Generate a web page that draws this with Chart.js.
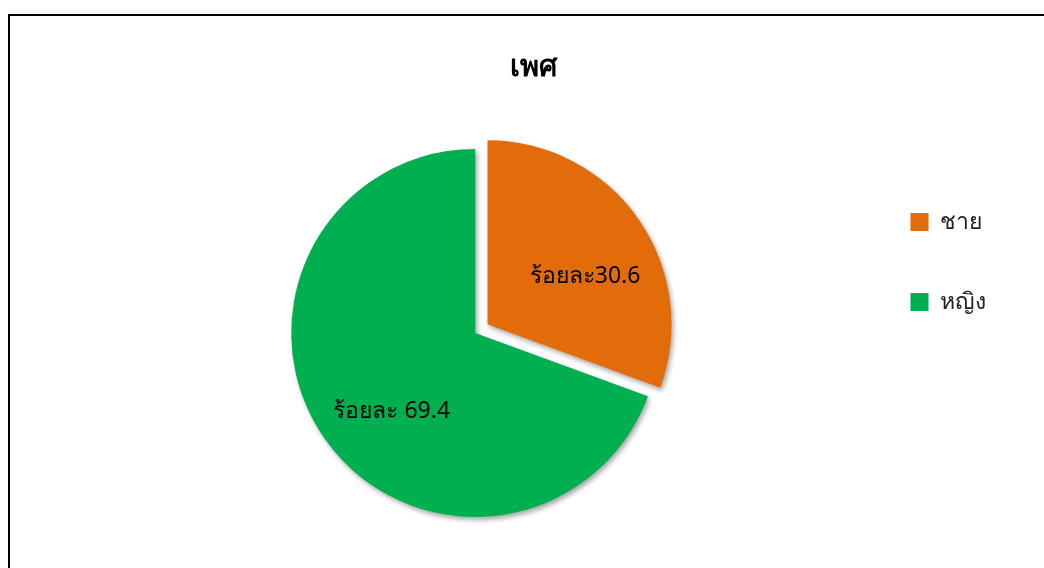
<!DOCTYPE html>
<html lang="th">
<head>
  <meta charset="UTF-8" />
  <title>เพศ</title>
  <script src="https://cdn.jsdelivr.net/npm/chart.js"></script>
  <style>
    html, body { margin: 0; padding: 0; background: #fff; overflow: hidden; }
    #frame { position: absolute; left: 8px; top: 14px; width: 1048px; height: 600px; border: 2px solid #000; }
  </style>
</head>
<body>
  <div id="frame">
    <canvas id="sexChart" width="1048" height="560"></canvas>
  </div>

  <script>
    const chartTitle = 'เพศ';
    const categories = ['ชาย', 'หญิง'];
    const percentValues = [30.6, 69.4];
    const labelTexts = ['ร้อยละ30.6', 'ร้อยละ 69.4'];
    const sliceColors = ['#E36C0A', '#00B050'];
    const explode = [15, 0];

    const thaiFont = "'Noto Sans', 'DejaVu Sans', sans-serif";

    // วาดชิ้นพายเอง เพื่อให้ชิ้น "ชาย" แยกออกมา พร้อมเงา
    const explodedSlices = {
      id: 'explodedSlices',
      beforeDatasetDraw(chart, args) {
        const ctx = chart.ctx;
        args.meta.data.forEach((arc, i) => {
          const mid = (arc.startAngle + arc.endAngle) / 2;
          ctx.save();
          ctx.shadowColor = 'rgba(0,0,0,0.35)';
          ctx.shadowBlur = 5;
          ctx.shadowOffsetX = 2;
          ctx.shadowOffsetY = 3;
          ctx.translate(Math.cos(mid) * explode[i], Math.sin(mid) * explode[i]);
          arc.draw(ctx);
          ctx.restore();
        });
        return false;
      }
    };

    // ป้ายข้อมูลบนชิ้นพาย
    const sliceLabels = {
      id: 'sliceLabels',
      afterDatasetsDraw(chart) {
        const ctx = chart.ctx;
        const meta = chart.getDatasetMeta(0);
        ctx.save();
        ctx.font = '23px ' + thaiFont;
        ctx.fillStyle = '#000';
        ctx.textAlign = 'center';
        ctx.textBaseline = 'middle';
        meta.data.forEach((arc, i) => {
          const mid = (arc.startAngle + arc.endAngle) / 2;
          const r = arc.outerRadius * 0.6 + explode[i];
          ctx.fillText(labelTexts[i], arc.x + Math.cos(mid) * r + 7, arc.y + Math.sin(mid) * r + 15);
        });
        ctx.restore();
      }
    };

    // ชื่อแผนภูมิจัดกึ่งกลางกรอบทั้งหมด ไม่ใช่กึ่งกลางพื้นที่ที่เหลือจากคำอธิบาย
    const centerTitle = {
      id: 'centerTitle',
      afterLayout(chart) {
        const t = chart.titleBlock;
        const shift = chart.width / 2 - (t.left + t.right) / 2 - 1;
        t.left += shift;
        t.right += shift;
      }
    };

    new Chart(document.getElementById('sexChart'), {
      type: 'pie',
      data: {
        labels: categories,
        datasets: [{
          data: percentValues,
          backgroundColor: sliceColors,
          borderWidth: 0,
          radius: 184
        }]
      },
      options: {
        responsive: false,
        animation: false,
        devicePixelRatio: 1,
        layout: { padding: { left: 87, right: 62, top: 0, bottom: 68 } },
        plugins: {
          title: {
            display: true,
            text: chartTitle,
            color: '#000',
            font: { family: thaiFont, size: 29, weight: 'bold' },
            padding: { top: 34, bottom: 73 }
          },
          legend: {
            position: 'right',
            labels: {
              color: '#222',
              font: { family: thaiFont, size: 23 },
              boxWidth: 18,
              boxHeight: 18,
              padding: 57
            }
          },
          tooltip: { enabled: false }
        }
      },
      plugins: [explodedSlices, sliceLabels, centerTitle]
    });
  </script>
</body>
</html>
